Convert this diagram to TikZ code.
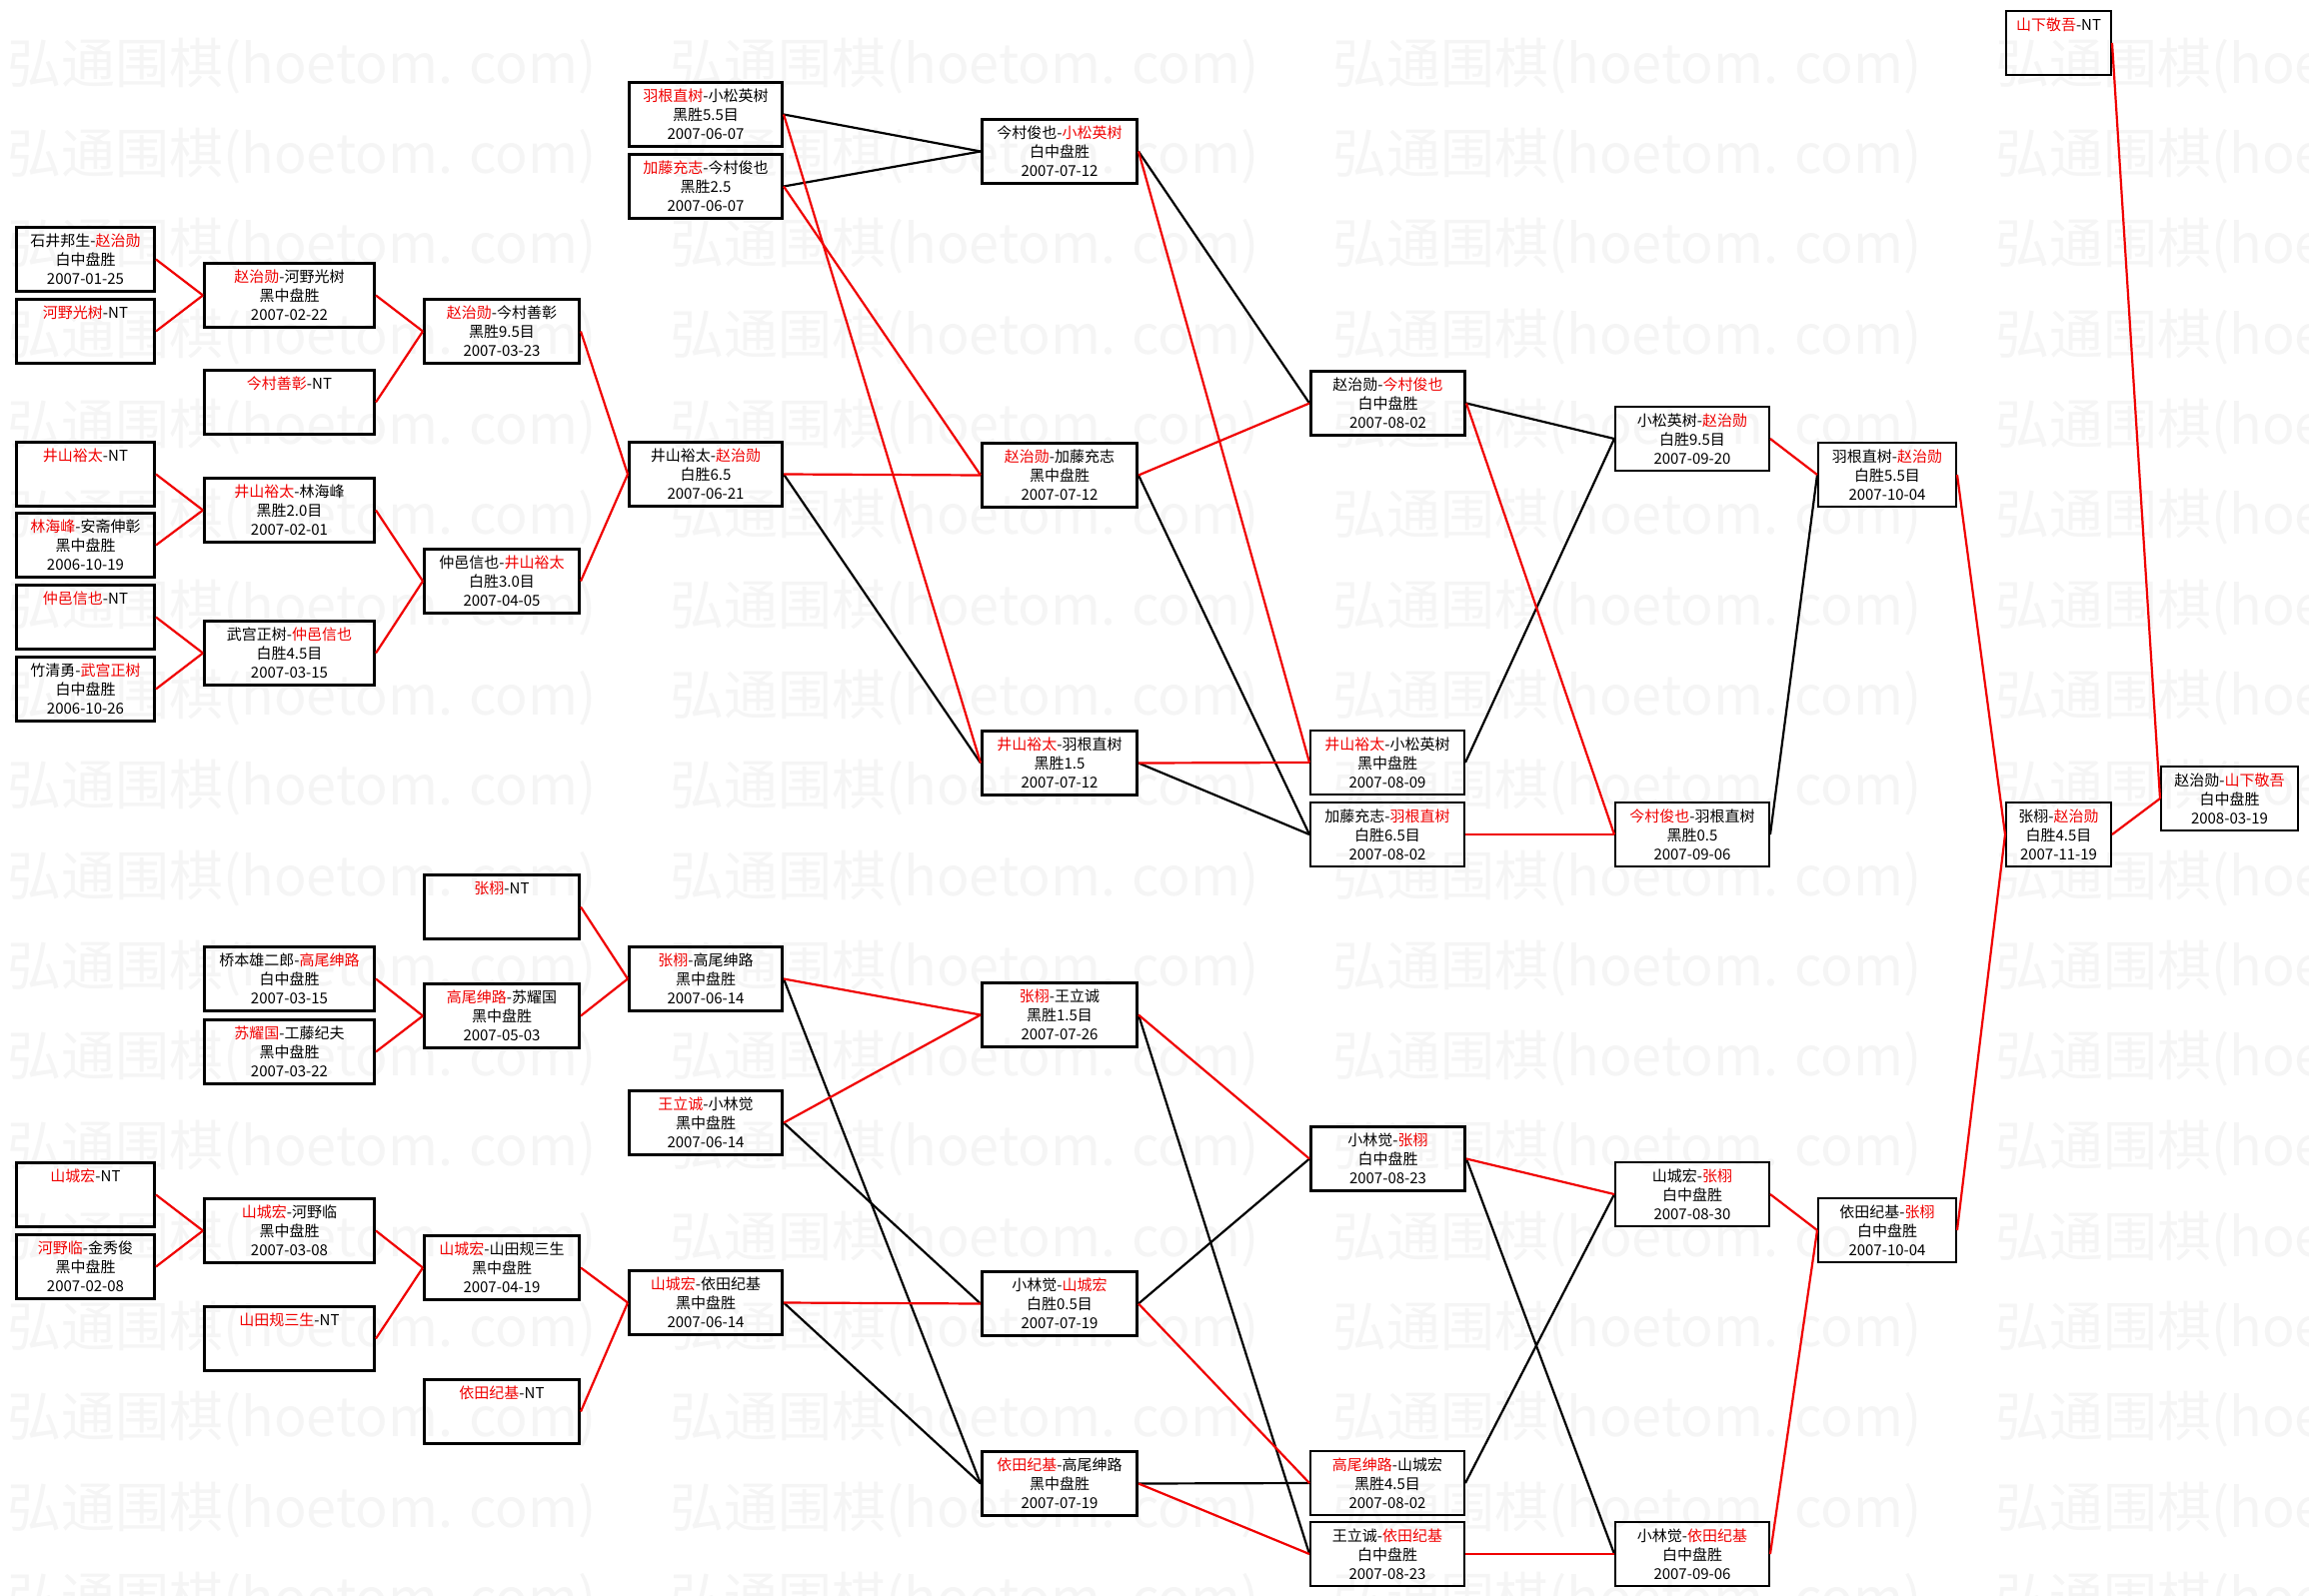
\documentclass[tikz,border=0pt]{standalone}
\usepackage{fontspec}
\newfontfamily\cjk{Noto Sans CJK SC}
\definecolor{winred}{RGB}{240,0,0}
\definecolor{marklite}{RGB}{245,245,245}
\newcommand{\wn}[1]{\textcolor{winred}{#1}}
\newcommand{\ntgame}[1]{\wn{#1}-NT\\~\\~}

\begin{document}
\begin{tikzpicture}[
			x=1pt, y=-1pt,
			game/.style={draw, line width=3pt, rectangle, anchor=north west, align=center, inner sep=0pt, minimum height=64pt, minimum width=#1, font=\cjk\fontsize{15}{19}\selectfont},
			slimbox/.style={line width=2pt},
			win/.style={draw=winred, line width=2.2pt},
			lose/.style={draw=black, line width=2.2pt}
			]

				\useasboundingbox (0,0) rectangle (2310,1597);
				\foreach \r in {0,...,17}
					\foreach \c in {0,...,3}
						\node[anchor=west, inner sep=0pt, text=marklite, font=\cjk\fontsize{54}{54}\selectfont] (wm-\r-\c) at ({7+663*\c},{66+90.3*\r}) {弘通围棋(hoetom. com)};

				\node[game=138] (a1) at (15,226) {石井邦生-\wn{赵治勋}\\白中盘胜\\2007-01-25};
				\node[game=138] (a2) at (15,298) {\ntgame{河野光树}};
				\node[game=138] (a3) at (15,441) {\ntgame{井山裕太}};
				\node[game=138] (a4) at (15,512) {\wn{林海峰}-安斋伸彰\\黑中盘胜\\2006-10-19};
				\node[game=138] (a5) at (15,584) {\ntgame{仲邑信也}};
				\node[game=138] (a6) at (15,656) {竹清勇-\wn{武宫正树}\\白中盘胜\\2006-10-26};
				\node[game=138] (a7) at (15,1162) {\ntgame{山城宏}};
				\node[game=138] (a8) at (15,1234) {\wn{河野临}-金秀俊\\黑中盘胜\\2007-02-08};

				\node[game=170] (b1) at (203,262) {\wn{赵治勋}-河野光树\\黑中盘胜\\2007-02-22};
				\node[game=170] (b2) at (203,369) {\ntgame{今村善彰}};
				\node[game=170] (b3) at (203,477) {\wn{井山裕太}-林海峰\\黑胜2.0目\\2007-02-01};
				\node[game=170] (b4) at (203,620) {武宫正树-\wn{仲邑信也}\\白胜4.5目\\2007-03-15};
				\node[game=170] (b5) at (203,946) {桥本雄二郎-\wn{高尾绅路}\\白中盘胜\\2007-03-15};
				\node[game=170] (b6) at (203,1019) {\wn{苏耀国}-工藤纪夫\\黑中盘胜\\2007-03-22};
				\node[game=170] (b7) at (203,1198) {\wn{山城宏}-河野临\\黑中盘胜\\2007-03-08};
				\node[game=170] (b8) at (203,1306) {\ntgame{山田规三生}};

				\node[game=155] (c1) at (423,298) {\wn{赵治勋}-今村善彰\\黑胜9.5目\\2007-03-23};
				\node[game=155] (c2) at (423,548) {仲邑信也-\wn{井山裕太}\\白胜3.0目\\2007-04-05};
				\node[game=155] (c3) at (423,874) {\ntgame{张栩}};
				\node[game=155] (c4) at (423,983) {\wn{高尾绅路}-苏耀国\\黑中盘胜\\2007-05-03};
				\node[game=155] (c5) at (423,1235) {\wn{山城宏}-山田规三生\\黑中盘胜\\2007-04-19};
				\node[game=155] (c6) at (423,1379) {\ntgame{依田纪基}};

				\node[game=153] (d1) at (628,81) {\wn{羽根直树}-小松英树\\黑胜5.5目\\2007-06-07};
				\node[game=153] (d2) at (628,153) {\wn{加藤充志}-今村俊也\\黑胜2.5\\2007-06-07};
				\node[game=153] (d3) at (628,441) {井山裕太-\wn{赵治勋}\\白胜6.5\\2007-06-21};
				\node[game=153] (d4) at (628,946) {\wn{张栩}-高尾绅路\\黑中盘胜\\2007-06-14};
				\node[game=153] (d5) at (628,1090) {\wn{王立诚}-小林觉\\黑中盘胜\\2007-06-14};
				\node[game=153] (d6) at (628,1270) {\wn{山城宏}-依田纪基\\黑中盘胜\\2007-06-14};

				\node[game=155] (e1) at (981,118) {今村俊也-\wn{小松英树}\\白中盘胜\\2007-07-12};
				\node[game=155] (e2) at (981,442) {\wn{赵治勋}-加藤充志\\黑中盘胜\\2007-07-12};
				\node[game=155] (e3) at (981,730) {\wn{井山裕太}-羽根直树\\黑胜1.5\\2007-07-12};
				\node[game=155] (e4) at (981,982) {\wn{张栩}-王立诚\\黑胜1.5目\\2007-07-26};
				\node[game=155] (e5) at (981,1271) {小林觉-\wn{山城宏}\\白胜0.5目\\2007-07-19};
				\node[game=155] (e6) at (981,1451) {\wn{依田纪基}-高尾绅路\\黑中盘胜\\2007-07-19};

				\node[game=154] (f1) at (1310,370) {赵治勋-\wn{今村俊也}\\白中盘胜\\2007-08-02};
				\node[game=154, slimbox] (f2) at (1310,730) {\wn{井山裕太}-小松英树\\黑中盘胜\\2007-08-09};
				\node[game=154, slimbox] (f3) at (1310,802) {加藤充志-\wn{羽根直树}\\白胜6.5目\\2007-08-02};
				\node[game=154] (f4) at (1310,1126) {小林觉-\wn{张栩}\\白中盘胜\\2007-08-23};
				\node[game=154, slimbox] (f5) at (1310,1451) {\wn{高尾绅路}-山城宏\\黑胜4.5目\\2007-08-02};
				\node[game=154, slimbox] (f6) at (1310,1522) {王立诚-\wn{依田纪基}\\白中盘胜\\2007-08-23};

				\node[game=154, slimbox] (g1) at (1615,406) {小松英树-\wn{赵治勋}\\白胜9.5目\\2007-09-20};
				\node[game=154, slimbox] (g2) at (1615,802) {\wn{今村俊也}-羽根直树\\黑胜0.5\\2007-09-06};
				\node[game=154, slimbox] (g3) at (1615,1162) {山城宏-\wn{张栩}\\白中盘胜\\2007-08-30};
				\node[game=154, slimbox] (g4) at (1615,1522) {小林觉-\wn{依田纪基}\\白中盘胜\\2007-09-06};

				\node[game=138, slimbox] (h1) at (1818,442) {羽根直树-\wn{赵治勋}\\白胜5.5目\\2007-10-04};
				\node[game=138, slimbox] (h2) at (1818,1198) {依田纪基-\wn{张栩}\\白中盘胜\\2007-10-04};

				\node[game=105, slimbox] (i0) at (2006,10) {\ntgame{山下敬吾}};
				\node[game=105, slimbox] (i1) at (2006,802) {张栩-\wn{赵治勋}\\白胜4.5目\\2007-11-19};

				\node[game=137, slimbox] (j) at (2161,766) {赵治勋-\wn{山下敬吾}\\白中盘胜\\2008-03-19};

				\draw[win] (a1.east) -- (b1.west);
				\draw[win] (a2.east) -- (b1.west);
				\draw[win] (a3.east) -- (b3.west);
				\draw[win] (a4.east) -- (b3.west);
				\draw[win] (a5.east) -- (b4.west);
				\draw[win] (a6.east) -- (b4.west);
				\draw[win] (a7.east) -- (b7.west);
				\draw[win] (a8.east) -- (b7.west);
				\draw[win] (b1.east) -- (c1.west);
				\draw[win] (b2.east) -- (c1.west);
				\draw[win] (b3.east) -- (c2.west);
				\draw[win] (b4.east) -- (c2.west);
				\draw[win] (b5.east) -- (c4.west);
				\draw[win] (b6.east) -- (c4.west);
				\draw[win] (b7.east) -- (c5.west);
				\draw[win] (b8.east) -- (c5.west);
				\draw[win] (c1.east) -- (d3.west);
				\draw[win] (c2.east) -- (d3.west);
				\draw[win] (c3.east) -- (d4.west);
				\draw[win] (c4.east) -- (d4.west);
				\draw[win] (c5.east) -- (d6.west);
				\draw[win] (c6.east) -- (d6.west);

				\draw[lose] (d1.east) -- (e1.west);
				\draw[lose] (d2.east) -- (e1.west);
				\draw[lose] (d3.east) -- (e3.west);
				\draw[lose] (d4.east) -- (e6.west);
				\draw[lose] (d5.east) -- (e5.west);
				\draw[lose] (d6.east) -- (e6.west);
				\draw[win] (d1.east) -- (e3.west);
				\draw[win] (d2.east) -- (e2.west);
				\draw[win] (d3.east) -- (e2.west);
				\draw[win] (d4.east) -- (e4.west);
				\draw[win] (d5.east) -- (e4.west);
				\draw[win] (d6.east) -- (e5.west);

				\draw[lose] (e1.east) -- (f1.west);
				\draw[lose] (e2.east) -- (f3.west);
				\draw[lose] (e3.east) -- (f3.west);
				\draw[lose] (e4.east) -- (f6.west);
				\draw[lose] (e5.east) -- (f4.west);
				\draw[lose] (e6.east) -- (f5.west);
				\draw[win] (e1.east) -- (f2.west);
				\draw[win] (e2.east) -- (f1.west);
				\draw[win] (e3.east) -- (f2.west);
				\draw[win] (e4.east) -- (f4.west);
				\draw[win] (e5.east) -- (f5.west);
				\draw[win] (e6.east) -- (f6.west);

				\draw[lose] (f1.east) -- (g1.west);
				\draw[lose] (f2.east) -- (g1.west);
				\draw[lose] (f4.east) -- (g4.west);
				\draw[lose] (f5.east) -- (g3.west);
				\draw[win] (f1.east) -- (g2.west);
				\draw[win] (f3.east) -- (g2.west);
				\draw[win] (f4.east) -- (g3.west);
				\draw[win] (f6.east) -- (g4.west);

				\draw[lose] (g2.east) -- (h1.west);
				\draw[win] (g1.east) -- (h1.west);
				\draw[win] (g3.east) -- (h2.west);
				\draw[win] (g4.east) -- (h2.west);

				\draw[win] (h1.east) -- (i1.west);
				\draw[win] (h2.east) -- (i1.west);
				\draw[win] (i1.east) -- (j.west);
				\draw[win] (i0.east) -- (j.west);

			\end{tikzpicture}
\end{document}
